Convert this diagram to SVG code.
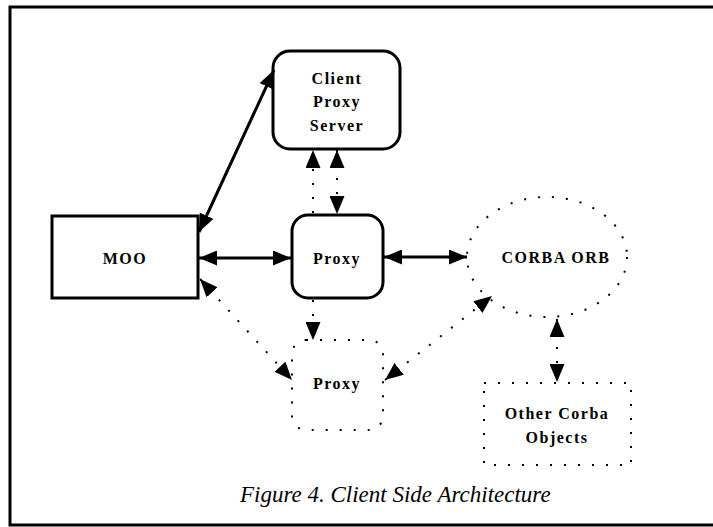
<svg xmlns="http://www.w3.org/2000/svg" width="713" height="527" viewBox="0 0 713 527">
  <style>
    .frame { fill: none; stroke: #000; stroke-width: 3; }
    .box { fill: #fff; stroke: #000; stroke-width: 3; }
    .dbox { fill: none; stroke: #000; stroke-width: 2; stroke-dasharray: 2 12; }
    .label { font-family: "Liberation Serif", serif; font-size: 16px; font-weight: bold; letter-spacing: 1.5px; text-anchor: middle; fill: #000; }
    .solid { fill: none; stroke: #000; stroke-width: 3; }
    .dot { fill: none; stroke: #000; stroke-width: 2; stroke-dasharray: 2 12; }
    .caption { font-family: "Liberation Serif", serif; font-style: italic; font-size: 23px; fill: #000; }
  </style>
  <defs>
    <marker id="head" viewBox="0 0 18 15" refX="18" refY="7.5" markerWidth="18" markerHeight="15" markerUnits="userSpaceOnUse" orient="auto-start-reverse">
      <path d="M0,0 L18,7.5 L0,15 Z" fill="#000"/>
    </marker>
  </defs>

  <!-- outer frame, open on the right -->
  <path class="frame" d="M716,7 H10 V525 H716"/>

  <g id="moo">
    <rect class="box" x="52" y="216" width="146" height="82"/>
    <text class="label" x="125" y="264">MOO</text>
  </g>

  <g id="client-proxy-server">
    <rect class="box" x="273" y="51" width="127" height="98" rx="17"/>
    <text class="label" x="337" y="84">Client</text>
    <text class="label" x="337" y="107">Proxy</text>
    <text class="label" x="337" y="131">Server</text>
  </g>

  <g id="proxy">
    <rect class="box" x="292" y="215" width="91" height="83" rx="16"/>
    <text class="label" x="337" y="264">Proxy</text>
  </g>

  <g id="proxy-remote">
    <rect class="dbox" x="292" y="340" width="91" height="90" rx="14"/>
    <text class="label" x="337" y="389">Proxy</text>
  </g>

  <g id="corba-orb">
    <ellipse class="dbox" cx="547" cy="257" rx="80" ry="60"/>
    <text class="label" x="556" y="263">CORBA ORB</text>
  </g>

  <g id="other-objects">
    <rect class="dbox" x="484" y="383" width="147" height="82"/>
    <text class="label" x="557" y="419">Other Corba</text>
    <text class="label" x="557" y="443">Objects</text>
  </g>

  <g id="connectors">
    <!-- solid links -->
    <line class="solid" x1="199" y1="232" x2="274" y2="70" marker-start="url(#head)" marker-end="url(#head)"/>
    <line class="solid" x1="199" y1="258" x2="291" y2="258" marker-start="url(#head)" marker-end="url(#head)"/>
    <line class="solid" x1="384" y1="257" x2="467" y2="257" marker-start="url(#head)" marker-end="url(#head)"/>
    <!-- dotted links -->
    <line class="dot" x1="313" y1="213" x2="313" y2="150" marker-end="url(#head)"/>
    <line class="dot" x1="337" y1="150" x2="337" y2="214" marker-start="url(#head)" marker-end="url(#head)"/>
    <line class="dot" x1="313" y1="300" x2="313" y2="340" marker-end="url(#head)"/>
    <line class="dot" x1="200" y1="279" x2="292" y2="380" marker-start="url(#head)" marker-end="url(#head)"/>
    <line class="dot" x1="385" y1="380" x2="492" y2="296" marker-start="url(#head)" marker-end="url(#head)"/>
    <line class="dot" x1="557" y1="319" x2="557" y2="382" marker-start="url(#head)" marker-end="url(#head)"/>
  </g>

  <text class="caption" x="240" y="502">Figure 4. Client Side Architecture</text>
</svg>
